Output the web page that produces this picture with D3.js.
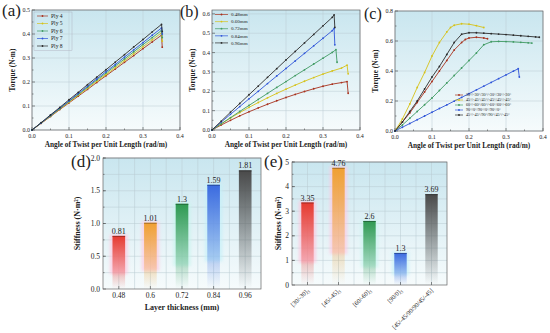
<!DOCTYPE html>
<html lang="en">
<head>
<meta charset="UTF-8">
<title>Torsion results</title>
<script src="https://d3js.org/d3.v7.min.js"></script>
<style>
  body { margin: 0; background: #fff; }
  svg { display: block; }
  text { font-family: "Liberation Serif", "Times New Roman", serif; fill: #222; }
</style>
</head>
<body>
<div id="chart"></div>
<script>
// ---- data ----
// (a) torque vs twist for different ply counts (shared x)
var twistA = [0, 0.025, 0.05, 0.075, 0.1, 0.125, 0.15, 0.175, 0.2, 0.225, 0.25, 0.275, 0.3, 0.325, 0.35, 0.352];
var plyNames = ["Ply 4", "Ply 5", "Ply 6", "Ply 7", "Ply 8"];
var ply4 = [0, 0.028, 0.056, 0.085, 0.113, 0.141, 0.169, 0.198, 0.226, 0.254, 0.282, 0.310, 0.339, 0.367, 0.395, 0.345];
var ply5 = [0, 0.029, 0.058, 0.087, 0.116, 0.145, 0.174, 0.203, 0.231, 0.260, 0.289, 0.318, 0.347, 0.376, 0.405, 0.370];
var ply6 = [0, 0.030, 0.059, 0.089, 0.119, 0.148, 0.178, 0.208, 0.237, 0.267, 0.296, 0.326, 0.356, 0.385, 0.415, 0.385];
var ply7 = [0, 0.030, 0.061, 0.091, 0.121, 0.152, 0.182, 0.213, 0.243, 0.273, 0.304, 0.334, 0.364, 0.395, 0.425, 0.400];
var ply8 = [0, 0.031, 0.063, 0.094, 0.126, 0.157, 0.189, 0.220, 0.251, 0.283, 0.314, 0.346, 0.377, 0.409, 0.440, 0.410];

// (b) torque vs twist for different layer thickness
var thickNames = ["0.48mm", "0.60mm", "0.72mm", "0.84mm", "0.96mm"];
var t048 = [[0,0],[0.025,0.026],[0.05,0.05],[0.075,0.073],[0.1,0.094],[0.125,0.114],[0.15,0.133],[0.175,0.151],[0.2,0.168],[0.225,0.184],[0.25,0.199],[0.275,0.213],[0.3,0.226],[0.325,0.237],[0.35,0.245],[0.365,0.25],[0.368,0.19]];
var t060 = [[0,0],[0.025,0.032],[0.05,0.062],[0.075,0.09],[0.1,0.117],[0.125,0.142],[0.15,0.166],[0.175,0.189],[0.2,0.211],[0.225,0.232],[0.25,0.252],[0.275,0.271],[0.3,0.289],[0.325,0.305],[0.35,0.32],[0.365,0.335],[0.368,0.29]];
var t072 = [[0,0],[0.025,0.032],[0.05,0.064],[0.075,0.096],[0.1,0.127],[0.125,0.158],[0.15,0.189],[0.175,0.22],[0.2,0.25],[0.225,0.281],[0.25,0.311],[0.275,0.341],[0.3,0.371],[0.325,0.401],[0.335,0.415],[0.338,0.35]];
var t084 = [[0,0],[0.025,0.041],[0.05,0.081],[0.075,0.121],[0.1,0.161],[0.125,0.2],[0.15,0.24],[0.175,0.279],[0.2,0.318],[0.225,0.357],[0.25,0.396],[0.275,0.435],[0.3,0.474],[0.325,0.513],[0.33,0.525],[0.332,0.44]];
var t096 = [[0,0],[0.025,0.046],[0.05,0.092],[0.075,0.137],[0.1,0.182],[0.125,0.227],[0.15,0.272],[0.175,0.317],[0.2,0.362],[0.225,0.406],[0.25,0.45],[0.275,0.494],[0.3,0.538],[0.325,0.582],[0.33,0.595],[0.332,0.53]];

// (c) torque vs twist for different layups
var layupNames = ["30°/-30°/30°/-30°/30°/-30°", "45°/-45°/45°/-45°/45°/-45°", "60°/-60°/60°/-60°/60°/-60°", "90°/0°/90°/0°/90°/0°", "45°/-45°/90°/90°/45°/-45°"];
var l30 = [[0,0],[0.02,0.06],[0.04,0.12],[0.06,0.19],[0.08,0.26],[0.1,0.33],[0.12,0.4],[0.14,0.47],[0.16,0.54],[0.18,0.59],[0.19,0.61],[0.2,0.62],[0.22,0.625],[0.24,0.62],[0.25,0.615]];
var l45 = [[0,0],[0.02,0.08],[0.04,0.18],[0.06,0.29],[0.08,0.39],[0.1,0.5],[0.12,0.59],[0.14,0.66],[0.15,0.69],[0.16,0.705],[0.18,0.715],[0.2,0.712],[0.22,0.702],[0.24,0.69]];
var l60 = [[0,0],[0.02,0.04],[0.04,0.085],[0.06,0.13],[0.08,0.175],[0.1,0.22],[0.12,0.27],[0.14,0.32],[0.16,0.37],[0.18,0.42],[0.2,0.47],[0.22,0.52],[0.24,0.575],[0.26,0.595],[0.28,0.597],[0.3,0.596],[0.32,0.594],[0.34,0.591],[0.36,0.588],[0.37,0.586]];
var l90 = [[0,0],[0.02,0.025],[0.04,0.05],[0.06,0.075],[0.08,0.1],[0.1,0.125],[0.12,0.15],[0.14,0.174],[0.16,0.199],[0.18,0.224],[0.2,0.249],[0.22,0.274],[0.24,0.299],[0.26,0.324],[0.28,0.349],[0.3,0.374],[0.32,0.399],[0.333,0.415],[0.336,0.36]];
var lmix = [[0,0],[0.02,0.06],[0.04,0.13],[0.06,0.2],[0.08,0.28],[0.1,0.36],[0.12,0.43],[0.14,0.51],[0.16,0.59],[0.18,0.645],[0.2,0.655],[0.22,0.655],[0.24,0.652],[0.26,0.649],[0.28,0.646],[0.3,0.643],[0.32,0.639],[0.34,0.635],[0.36,0.631],[0.38,0.627],[0.39,0.625]];

// (d) stiffness vs layer thickness
var thickCats = ["0.48", "0.6", "0.72", "0.84", "0.96"];
var stiffD = [0.81, 1.01, 1.3, 1.59, 1.81];

// (e) stiffness vs layup
var layupCats = [["[30/-30]", "3"], ["[45/-45]", "3"], ["[60/-60]", "3"], ["[90/0]", "3"], ["[45/-45/90/90/45/-45]", ""]];
var stiffE = [3.35, 4.76, 2.6, 1.3, 3.69];

var lineColors = ["#a8321e", "#d6c21a", "#3f9a62", "#2f55d8", "#2b2b2b"];
var barColors = ["#e63a30", "#f0a032", "#2f9a52", "#3b6be0", "#4a4a4a"];
var haloColors = ["#ffc4dc", "#ffc8e0", "#c8f4ee", "#c4f0f8", null];

var W = 550, H = 333;
var svg = d3.select("#chart").append("svg").attr("width", W).attr("height", H);
var defs = svg.append("defs");

// plot background gradient
var bg = defs.append("linearGradient").attr("id", "bgGrad").attr("x1", 0).attr("y1", 0).attr("x2", 0).attr("y2", 1);
bg.append("stop").attr("offset", "0%").attr("stop-color", "#c9e6ef");
bg.append("stop").attr("offset", "100%").attr("stop-color", "#f6fbfc");

barColors.forEach(function(c, i) {
  var g = defs.append("linearGradient").attr("id", "barGrad" + i).attr("x1", 0).attr("y1", 0).attr("x2", 0).attr("y2", 1);
  g.append("stop").attr("offset", "0%").attr("stop-color", c).attr("stop-opacity", 1);
  g.append("stop").attr("offset", "45%").attr("stop-color", c).attr("stop-opacity", 0.55);
  g.append("stop").attr("offset", "100%").attr("stop-color", c).attr("stop-opacity", 0);
});
var blur = defs.append("filter").attr("id", "halo").attr("x", "-50%").attr("y", "-20%").attr("width", "200%").attr("height", "140%");
blur.append("feGaussianBlur").attr("stdDeviation", 1.5);

function panelLabel(txt, x, y, fs) {
  svg.append("text").attr("x", x).attr("y", y).attr("font-size", fs || 17).text(txt);
}

// background, grid, frame, ticks for a panel
function drawFrame(x, y, opt) {
  var x0 = x.range()[0], x1 = x.range()[1], y0 = y.range()[0], y1 = y.range()[1];
  svg.append("rect").attr("x", x0).attr("y", y1).attr("width", x1 - x0).attr("height", y0 - y1).attr("fill", "url(#bgGrad)");
  var grid = svg.append("g").attr("stroke", "#b9cbd0").attr("stroke-width", 0.5);
  opt.xGrid.forEach(function(v) {
    grid.append("line").attr("x1", x(v)).attr("x2", x(v)).attr("y1", y1).attr("y2", y0);
  });
  opt.yGrid.forEach(function(v) {
    grid.append("line").attr("x1", x0).attr("x2", x1).attr("y1", y(v)).attr("y2", y(v));
  });
  var ax = svg.append("g").attr("stroke", "#444").attr("stroke-width", 0.6);
  (opt.xMinor || []).forEach(function(v) {
    ax.append("line").attr("x1", x(v)).attr("x2", x(v)).attr("y1", y0).attr("y2", y0 - 1.5);
  });
  (opt.xMajor || []).forEach(function(v) {
    ax.append("line").attr("x1", x(v)).attr("x2", x(v)).attr("y1", y0).attr("y2", y0 - 3);
  });
  opt.yMinor.forEach(function(v) {
    ax.append("line").attr("x1", x0).attr("x2", x0 + 1.5).attr("y1", y(v)).attr("y2", y(v));
  });
  opt.yMajor.forEach(function(v) {
    ax.append("line").attr("x1", x0).attr("x2", x0 + 3).attr("y1", y(v)).attr("y2", y(v));
  });
  svg.append("rect").attr("x", x0).attr("y", y1).attr("width", x1 - x0).attr("height", y0 - y1)
    .attr("fill", "none").attr("stroke", "#666").attr("stroke-width", 0.7);
}

function range(a, b, s) {
  var out = [];
  for (var v = a; v <= b + 1e-9; v += s) out.push(+v.toFixed(4));
  return out;
}

function linePanel(cfg) {
  var x = d3.scaleLinear().domain([0, 0.4]).range([cfg.left, cfg.right]);
  var y = d3.scaleLinear().domain([0, cfg.ymax]).range([cfg.bottom, cfg.top]);
  var xMajor = [0, 0.1, 0.2, 0.3, 0.4];
  var yMajor = range(0, cfg.ymax, cfg.ystep);
  drawFrame(x, y, {
    xGrid: xMajor, yGrid: yMajor,
    xMajor: xMajor, xMinor: range(0.05, 0.35, 0.1),
    yMajor: yMajor, yMinor: range(cfg.ystep / 2, cfg.ymax, cfg.ystep)
  });

  var line = d3.line().x(function(d) { return x(d[0]); }).y(function(d) { return y(d[1]); });
  cfg.series.forEach(function(s, i) {
    var g = svg.append("g");
    g.append("path").datum(s).attr("d", line).attr("fill", "none")
      .attr("stroke", lineColors[i]).attr("stroke-width", 0.9);
    g.selectAll("circle").data(s).join("circle")
      .attr("cx", function(d) { return x(d[0]); }).attr("cy", function(d) { return y(d[1]); })
      .attr("r", 0.9).attr("fill", lineColors[i]);
  });

  // tick labels
  svg.append("g").selectAll("text").data(xMajor).join("text")
    .attr("x", function(d) { return x(d); }).attr("y", cfg.bottom + 8)
    .attr("text-anchor", "middle").attr("font-size", 6).text(function(d) { return d.toFixed(1); });
  svg.append("g").selectAll("text").data(yMajor).join("text")
    .attr("x", cfg.left - 2).attr("y", function(d) { return y(d) + 2; })
    .attr("text-anchor", "end").attr("font-size", 6).text(function(d) { return d.toFixed(1); });

  svg.append("text").attr("x", (cfg.left + cfg.right) / 2).attr("y", cfg.bottom + 17)
    .attr("text-anchor", "middle").attr("font-size", 7.3).attr("font-weight", "bold")
    .text("Angle of Twist per Unit Length (rad/m)");
  svg.append("text").attr("transform", "translate(" + (cfg.left - 17) + "," + ((cfg.top + cfg.bottom) / 2) + ") rotate(-90)")
    .attr("text-anchor", "middle").attr("font-size", 7.3).attr("font-weight", "bold").text("Torque (N·m)");

  // legend
  var L = cfg.legend;
  if (L.box) {
    svg.append("rect").attr("x", L.x - 3).attr("y", L.y - 4).attr("width", L.w).attr("height", L.dy * 5 + 1)
      .attr("fill", "none").attr("stroke", "#aab").attr("stroke-width", 0.4);
  }
  cfg.names.forEach(function(n, i) {
    var ly = L.y + i * L.dy;
    svg.append("line").attr("x1", L.x).attr("x2", L.x + L.len).attr("y1", ly).attr("y2", ly)
      .attr("stroke", lineColors[i]).attr("stroke-width", 0.7);
    svg.append("circle").attr("cx", L.x + L.len / 2).attr("cy", ly).attr("r", 0.9).attr("fill", lineColors[i]);
    svg.append("text").attr("x", L.x + L.len + 3).attr("y", ly + L.fs * 0.35)
      .attr("font-size", L.fs).text(n);
  });
}

// ---- (a) ----
linePanel({
  left: 32, right: 180, top: 10, bottom: 130, ymax: 0.5, ystep: 0.1,
  series: [ply4, ply5, ply6, ply7, ply8].map(function(ys) {
    return ys.map(function(v, j) { return [twistA[j], v]; });
  }),
  names: plyNames,
  legend: { x: 37, y: 16, dy: 7.5, len: 11, fs: 5.6, w: 38, box: true }
});
panelLabel("(a)", 2, 16);

// ---- (b) ----
linePanel({
  left: 212, right: 360, top: 10, bottom: 130, ymax: 0.62, ystep: 0.1,
  series: [t048, t060, t072, t084, t096],
  names: thickNames,
  legend: { x: 215, y: 14.5, dy: 7.1, len: 13, fs: 5, w: 46, box: false }
});
panelLabel("(b)", 180, 17, 16);

// ---- (c) ----
linePanel({
  left: 395, right: 543, top: 11, bottom: 131, ymax: 0.8, ystep: 0.2,
  series: [l30, l45, l60, l90, lmix],
  names: layupNames,
  legend: { x: 455, y: 95, dy: 5, len: 8, fs: 4.2, w: 90, box: false }
});
panelLabel("(c)", 364, 19, 16);

// ---- bar panels ----
function barPanel(cfg) {
  var x = d3.scaleBand().domain(d3.range(cfg.values.length)).range([cfg.left, cfg.right]).paddingInner(0.6).paddingOuter(0.3);
  var y = d3.scaleLinear().domain([0, cfg.ymax]).range([cfg.bottom, cfg.top]);
  var centers = d3.range(cfg.values.length).map(function(i) { return x(i) + x.bandwidth() / 2; });
  var step = x.step();
  var xGrid = [];
  centers.forEach(function(c, i) { xGrid.push(c); if (i < centers.length - 1) xGrid.push(c + step / 2); });
  var xPix = d3.scaleLinear().domain([cfg.left, cfg.right]).range([cfg.left, cfg.right]);
  drawFrame(xPix, y, {
    xGrid: xGrid, yGrid: range(cfg.yMinorStep, cfg.ymax, cfg.yMinorStep),
    xMajor: centers, xMinor: [],
    yMajor: range(0, cfg.ymax, cfg.ystep), yMinor: range(cfg.yMinorStep, cfg.ymax, cfg.yMinorStep)
  });

  var bw = x.bandwidth();
  cfg.values.forEach(function(v, i) {
    var bx = x(i), by = y(v), bh = cfg.bottom - y(v);
    if (haloColors[i]) {
      svg.append("rect").attr("x", bx - 2.5).attr("y", by - 1.5).attr("width", bw + 5).attr("height", bh * 0.75)
        .attr("fill", haloColors[i]).attr("opacity", 0.7).attr("filter", "url(#halo)");
    }
    svg.append("rect").attr("x", bx).attr("y", by).attr("width", bw).attr("height", bh)
      .attr("fill", "url(#barGrad" + i + ")");
    svg.append("line").attr("x1", bx).attr("x2", bx + bw).attr("y1", by + 0.4).attr("y2", by + 0.4)
      .attr("stroke", d3.color(barColors[i]).darker(1.2)).attr("stroke-width", 0.9);
    svg.append("text").attr("x", bx + bw / 2).attr("y", by - 2).attr("text-anchor", "middle")
      .attr("font-size", 8).text(String(v));
  });

  svg.append("g").selectAll("text").data(range(0, cfg.ymax, cfg.ystep)).join("text")
    .attr("x", cfg.left - 3).attr("y", function(d) { return y(d) + 2.6; })
    .attr("text-anchor", "end").attr("font-size", 7.5).text(cfg.yFmt);
  svg.append("text").attr("transform", "translate(" + cfg.yTitleX + "," + ((cfg.top + cfg.bottom) / 2) + ") rotate(-90)")
    .attr("text-anchor", "middle").attr("font-size", 8).attr("font-weight", "bold")
    .text("Stiffness (N·m²)");
  return centers;
}

// ---- (d) ----
var cD = barPanel({
  left: 103, right: 261, top: 158, bottom: 289, ymax: 2.0, ystep: 0.5, yMinorStep: 0.25,
  values: stiffD, yTitleX: 80, yFmt: function(d) { return d.toFixed(1); }
});
svg.append("g").selectAll("text").data(thickCats).join("text")
  .attr("x", function(d, i) { return cD[i]; }).attr("y", 298)
  .attr("text-anchor", "middle").attr("font-size", 7.5).text(function(d) { return d; });
svg.append("text").attr("x", 182).attr("y", 310).attr("text-anchor", "middle")
  .attr("font-size", 8).attr("font-weight", "bold").text("Layer thickness (mm)");
panelLabel("(d)", 71, 167);

// ---- (e) ----
var cE = barPanel({
  left: 292, right: 447, top: 162, bottom: 285, ymax: 5, ystep: 1, yMinorStep: 0.5,
  values: stiffE, yTitleX: 281, yFmt: function(d) { return d; }
});
layupCats.forEach(function(c, i) {
  var t = svg.append("text").attr("transform", "translate(" + (cE[i] + 2) + ",291) rotate(-45)")
    .attr("text-anchor", "end").attr("font-size", 6.3);
  t.append("tspan").text(c[0]);
  if (c[1]) t.append("tspan").attr("font-size", 4.5).attr("dy", 1.5).text(c[1]);
});
panelLabel("(e)", 264, 167);
</script>
</body>
</html>
